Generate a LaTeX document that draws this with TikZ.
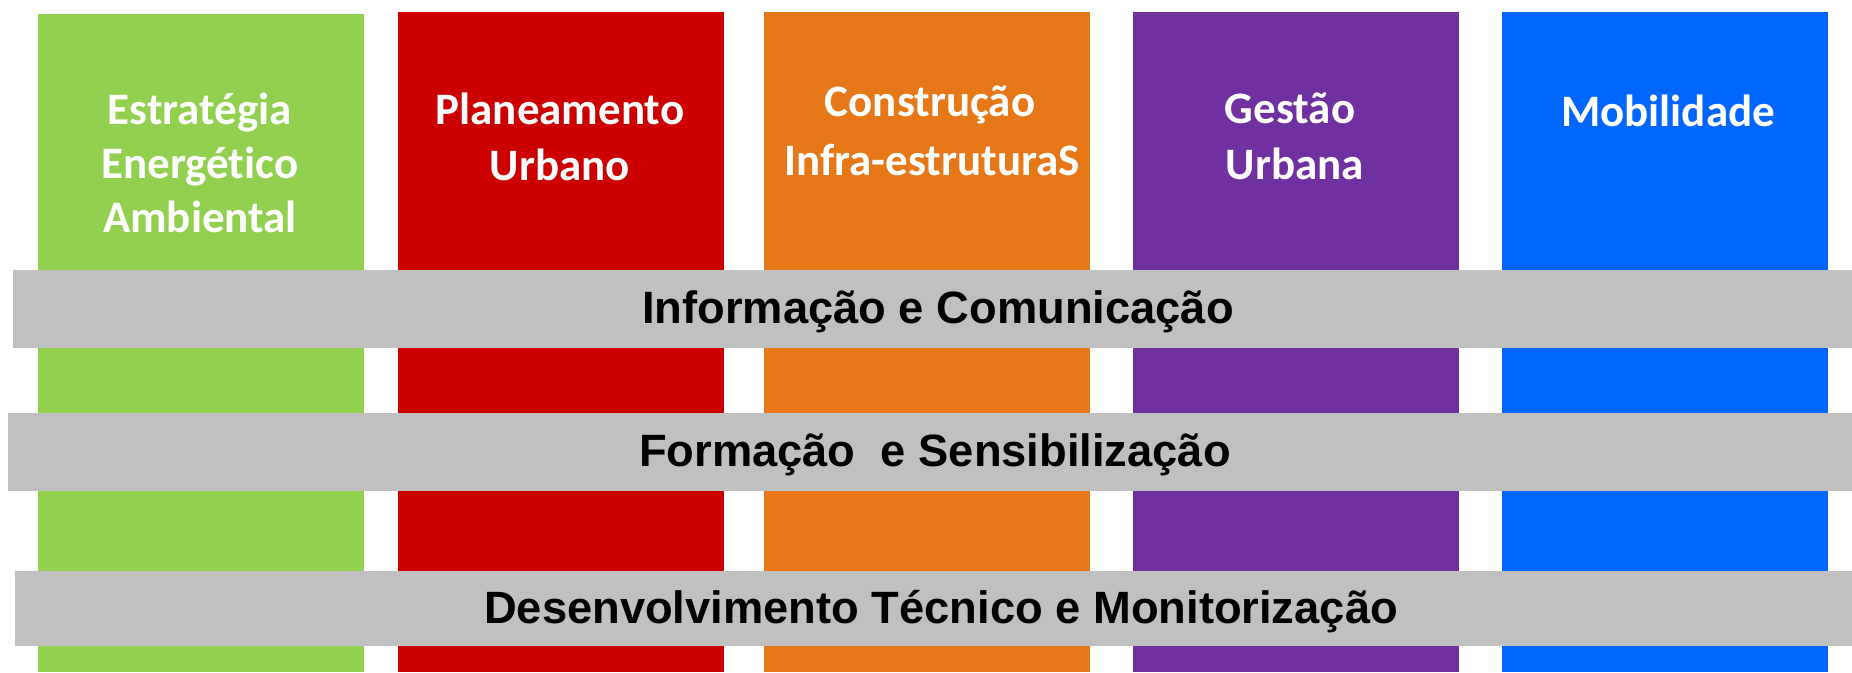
\documentclass[tikz,border=0pt]{standalone}
\usepackage{fontspec}
\setmainfont{Liberation Sans}
\newfontfamily\colfont[Ligatures={NoCommon,NoDiscretionary}]{Carlito}
\definecolor{cgreen}{HTML}{92D050}
\definecolor{cred}{HTML}{CC0000}
\definecolor{corange}{HTML}{E67818}
\definecolor{cpurple}{HTML}{7030A0}
\definecolor{cblue}{HTML}{0066FF}
\definecolor{cgray}{HTML}{C0C0C0}
\begin{document}
\begin{tikzpicture}[x=1pt,y=-1pt,
  colbox/.style={anchor=north west, inner sep=0pt, outer sep=0pt, minimum width=326pt, fill=#1, draw=none},
  bandbox/.style={anchor=north west, inner sep=0pt, outer sep=0pt, fill=cgray, draw=none},
  coltext/.style={anchor=base, inner sep=0pt, text=white, font=\colfont\bfseries\fontsize{45}{54}\selectfont},
  bandtext/.style={anchor=base, inner sep=0pt, text=black, font=\bfseries\fontsize{45.3}{54}\selectfont}]
\useasboundingbox (0,0) rectangle (1852,672);
% columns
\node[colbox=cgreen, minimum height=658pt] (cg) at (38,14) {};
\node[colbox=cred, minimum height=660pt] (cr) at (398,12) {};
\node[colbox=corange, minimum height=660pt] (co) at (764,12) {};
\node[colbox=cpurple, minimum height=660pt] (cp) at (1133,12) {};
\node[colbox=cblue, minimum height=660pt] (cb) at (1502,12) {};
% column titles
\node[coltext] (g1) at (200,124.3) {Estratégia};
\node[coltext] (g2) at (200,178) {Energético};
\node[coltext] (g3) at (200,232.5) {Ambiental};
\node[coltext] (r1) at (560,124.3) {Planeamento};
\node[coltext] (r2) at (560,180.7) {Urbano};
\node[coltext] (o1) at (930,116.5) {Construção};
\node[coltext] (o2) at (932,175) {Infra-estruturaS};
\node[coltext] (p1) at (1290,123.3) {Gestão};
\node[coltext] (p2) at (1295,179.3) {Urbana};
\node[coltext] (b1) at (1668,126) {Mobilidade};
% bands
\node[bandbox, minimum width=1839pt, minimum height=77.7pt] (band1) at (13,270) {};
\node[bandbox, minimum width=1844pt, minimum height=78pt] (band2) at (8,412.7) {};
\node[bandbox, minimum width=1837pt, minimum height=74.7pt] (band3) at (15,571) {};
\node[bandtext] (t1) at (938,323.3) {Informação e Comunicação};
\node[bandtext] (t2) at (935,466) {Formação\ \ e Sensibilização};
\node[bandtext] (t3) at (941,623.3) {Desenvolvimento Técnico e Monitorização};
\end{tikzpicture}
\end{document}
